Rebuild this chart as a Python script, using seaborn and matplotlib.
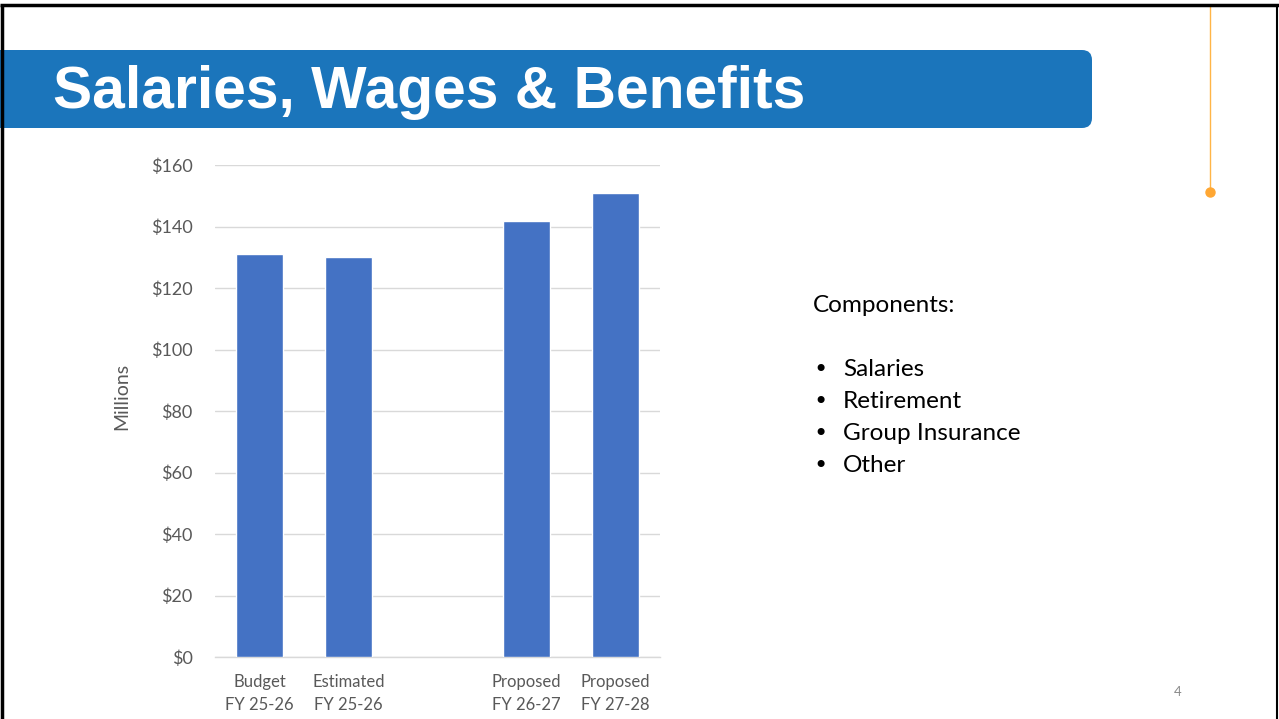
import matplotlib
matplotlib.use("Agg")
import matplotlib.pyplot as plt
import seaborn as sns
import pandas as pd
from matplotlib.patches import FancyBboxPatch

# ---- data ----
categories = ["Budget\nFY 25-26", "Estimated\nFY 25-26", "Proposed\nFY 26-27", "Proposed\nFY 27-28"]
values = [130.9, 130.1, 141.8, 150.8]
slot_order = ["Budget\nFY 25-26", "Estimated\nFY 25-26", " ", "Proposed\nFY 26-27", "Proposed\nFY 27-28"]
y_ticks = [0, 20, 40, 60, 80, 100, 120, 140, 160]
y_tick_labels = ["$0", "$20", "$40", "$60", "$80", "$100", "$120", "$140", "$160"]
title = "Salaries, Wages & Benefits"
components_header = "Components:"
components = ["Salaries", "Retirement", "Group Insurance", "Other"]
page_number = "4"

sns.set_theme(style="white")
plt.rcParams['font.family'] = ['Lato', 'DejaVu Sans']

W, H = 1279, 719
fig = plt.figure(figsize=(W / 100, H / 100), dpi=100)
fig.patch.set_facecolor("white")

# main chart axes (pixel box: x 215..660, y 165..657)
ax = fig.add_axes([215 / W, (H - 657) / H, 445 / W, 492 / H])
df = pd.DataFrame({"cat": categories, "val": values})
sns.barplot(data=df, x="cat", y="val", order=slot_order, color="#4472C4",
            saturation=1, width=0.53, ax=ax, zorder=3)
ax.set_ylim(0, 160)
ax.set_xlim(-0.5, len(slot_order) - 0.5)
ax.set_yticks(y_ticks)
ax.set_yticklabels(y_tick_labels)
labels = [c if c.strip() else "" for c in slot_order]
ax.set_xticks(range(len(slot_order)))
ax.set_xticklabels(labels, linespacing=1.6)
ax.grid(axis="y", color="#D9D9D9", linewidth=1.0, zorder=0)
ax.grid(axis="x", visible=False)
for s in ["top", "right", "left"]:
    ax.spines[s].set_visible(False)
ax.spines["bottom"].set_color("#D9D9D9")
ax.spines["bottom"].set_linewidth(1.0)
ax.tick_params(axis="y", length=0, pad=16, labelsize=13, labelcolor="#595959")
ax.tick_params(axis="x", length=0, pad=12, labelsize=12, labelcolor="#595959")
ax.set_xlabel("")
ax.set_ylabel("Millions", fontsize=14, color="#595959")
ax.yaxis.set_label_coords(-0.19, 0.53)
ax.set_facecolor("white")

# overlay axes in pixel coordinates for slide decorations
ov = fig.add_axes([0, 0, 1, 1], facecolor="none")
ov.set_xlim(0, W)
ov.set_ylim(H, 0)
ov.axis("off")

# title banner
banner = FancyBboxPatch((-30, 50), 1092 + 30, 78,
                        boxstyle="round,pad=0,rounding_size=10",
                        facecolor="#1B75BB", edgecolor="none", zorder=2)
ov.add_patch(banner)
ov.text(53, 92, title, color="white", fontsize=42.3, fontweight="bold",
        family=["Liberation Sans", "DejaVu Sans"], va="center", ha="left", zorder=3)

# slide border
ov.plot([2, 2], [5, H + 5], color="black", lw=2.5, zorder=5, solid_capstyle="butt")
ov.plot([0, W], [5, 5], color="black", lw=2.5, zorder=5, solid_capstyle="butt")
ov.plot([1277, 1277], [5, H + 5], color="black", lw=1.5, zorder=5, solid_capstyle="butt")

# orange accent line and dot
ov.plot([1210, 1210], [6, 192], color="#FFB547", lw=1.0, zorder=4)
ov.plot([1210], [192], marker="o", markersize=6.5, color="#FFA733", zorder=4)

# components text
fs = 17.5
ov.text(813, 306, components_header, fontsize=fs, color="black", va="center", ha="left")
for i, c in enumerate(components):
    y = 370 + i * 32
    ov.text(813, y, "\u2022", fontsize=fs, color="black", va="center", ha="left",
            family=["DejaVu Sans"])
    ov.text(843, y, c, fontsize=fs, color="black", va="center", ha="left")

# page number
ov.text(1178, 692, page_number, fontsize=9.5, color="#898989", va="center", ha="center")

fig.savefig("out.png", dpi=100, facecolor="white")
